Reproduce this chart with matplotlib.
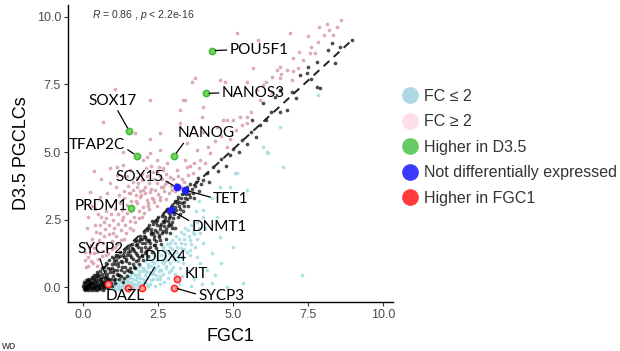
import matplotlib
matplotlib.use('Agg')
import matplotlib.pyplot as plt
from matplotlib.lines import Line2D

plt.rcParams['font.family'] = ['Liberation Sans', 'DejaVu Sans']
plt.rcParams['mathtext.fontset'] = 'custom'
plt.rcParams['mathtext.it'] = 'Liberation Sans:italic'
plt.rcParams['mathtext.rm'] = 'Liberation Sans'

# genes with FC >= 2 (higher in D3.5)
pink_pts = [
    (5.14, 9.42), (6.9, 9.4), (7.88, 9.62), (8.12, 9.74), (8.46, 9.62), (8.34, 9.33), (8.03, 9.33),
    (7.84, 9.09), (5.84, 9.15), (7.57, 8.65), (7.73, 8.65), (7.01, 8.47), (7.34, 8.41), (6.57, 8.16),
    (6.46, 8.04), (6.79, 8.04), (7.18, 8.1), (5.68, 8.1), (3.73, 7.73), (3.62, 7.6), (4.57, 7.67),
    (4.73, 7.6), (5.46, 7.6), (6.01, 7.48), (6.29, 7.79), (6.57, 7.73), (6.96, 7.67), (3.34, 6.93),
    (4.01, 6.68), (5.9, 6.93), (3.96, 6.31), (4.68, 6.19), (5.01, 6.19), (5.23, 6.31), (5.46, 6.31),
    (5.29, 6.0), (1.07, 7.32), (2.23, 6.93), (0.68, 6.12), (3.4, 6.93), (3.23, 6.56), (1.73, 5.69),
    (2.23, 5.5), (2.57, 5.69), (3.23, 6.06), (3.68, 5.94), (4.01, 5.75), (4.46, 5.94), (4.79, 6.19),
    (5.46, 6.06), (1.34, 5.01), (2.12, 4.83), (2.57, 5.07), (2.79, 4.58), (3.46, 5.32), (3.79, 5.07),
    (3.9, 4.7), (4.23, 4.95), (4.79, 5.2), (1.12, 4.46), (1.57, 4.33), (3.12, 4.33), (3.46, 4.46),
    (3.68, 4.21),
    (0.1, 0.75), (0.15, 1.1), (0.12, 2.19), (0.2, 1.5), (0.25, 0.95), (0.3, 1.8), (0.35, 1.25),
    (0.4, 2.3), (0.45, 1.6), (0.5, 1.05), (0.55, 2.0), (0.6, 2.6), (0.65, 1.35), (0.7, 1.9),
    (0.75, 2.8), (0.8, 1.45), (0.85, 2.3), (0.9, 3.0), (0.95, 1.7), (1.0, 2.5), (1.05, 3.2),
    (1.1, 1.9), (1.15, 2.7), (1.2, 3.4), (1.25, 2.1), (1.3, 2.85), (1.35, 3.55), (1.4, 2.3),
    (1.45, 3.05), (1.5, 3.75), (1.55, 2.45), (1.6, 3.2), (1.65, 3.9), (1.7, 2.6), (1.75, 3.4),
    (1.8, 4.05), (1.85, 2.8), (1.9, 3.55), (1.95, 4.2), (2.0, 2.95), (2.05, 3.7), (2.1, 4.4),
    (2.15, 3.1), (2.2, 3.85), (2.25, 4.5), (2.3, 3.3), (2.35, 4.0), (2.4, 3.6), (2.45, 4.25),
    (2.5, 3.45), (2.55, 4.1), (2.6, 3.7), (2.65, 4.4), (2.7, 3.55), (2.8, 3.9), (2.9, 4.09),
    (2.68, 4.33), (2.46, 4.7), (2.01, 4.7), (2.23, 4.95), (1.34, 4.52), (0.9, 4.4), (1.12, 4.15),
    (0.9, 3.84), (0.23, 3.53), (0.57, 3.34), (1.79, 3.71), (2.01, 3.59), (2.23, 3.53), (1.9, 3.34),
    (2.12, 3.22), (2.34, 3.28), (1.79, 3.1), (2.57, 3.22), (2.68, 3.71), (1.57, 3.47), (0.4, 2.9),
    (0.7, 2.4), (1.0, 2.0), (1.3, 2.5), (1.6, 2.8), (0.3, 3.0), (0.5, 2.7), (0.8, 3.5), (1.1, 3.7),
    (1.45, 4.1), (0.6, 4.0), (0.35, 4.3), (1.95, 2.6), (2.2, 2.9), (2.45, 3.0), (0.15, 2.6),
    (0.05, 1.3), (0.45, 0.8), (0.75, 1.2), (1.05, 1.5), (1.35, 1.8), (1.65, 2.1), (2.75, 3.25),
    (2.95, 3.6), (3.1, 3.8), (3.3, 4.0), (3.5, 4.15), (3.0, 4.0),
    (0.08, 1.0), (0.18, 0.8), (0.22, 1.25), (0.28, 1.55), (0.33, 0.9), (0.38, 1.45), (0.42, 2.05),
    (0.48, 1.3), (0.52, 1.75), (0.58, 2.3), (0.62, 1.15), (0.68, 1.65), (0.72, 2.15), (0.78, 2.55),
    (0.83, 1.25), (0.87, 1.95), (0.92, 2.7), (0.97, 1.4), (1.02, 2.2), (1.08, 2.9), (1.13, 1.6),
    (1.18, 2.35), (1.22, 3.1), (1.28, 1.75), (1.32, 2.6), (1.38, 3.3), (1.42, 2.0), (1.48, 2.75),
    (1.52, 3.5), (1.58, 2.2), (1.62, 2.95), (1.68, 3.6), (1.72, 2.4), (1.78, 3.2), (1.82, 3.85),
    (1.88, 2.55), (1.92, 3.4), (1.98, 3.95), (2.02, 2.75), (2.08, 3.5), (2.12, 4.1), (2.18, 3.0),
    (2.28, 3.65), (2.32, 4.25), (2.38, 3.15), (2.48, 3.85), (2.52, 4.45), (2.58, 3.35), (2.62, 4.0),
    (2.72, 3.8), (2.78, 4.2), (2.85, 3.5), (2.92, 3.75), (3.05, 3.55), (3.15, 4.1), (3.25, 3.7),
    (3.38, 3.9), (3.55, 4.5), (3.4, 4.7), (3.7, 4.6), (3.85, 4.4), (4.05, 4.6), (4.15, 5.2),
    (4.4, 5.4), (4.6, 5.6), (4.9, 5.5), (5.1, 5.8), (5.6, 6.5), (5.8, 7.3), (6.1, 7.6), (6.3, 7.2),
    (6.6, 7.9), (7.0, 8.0), (7.2, 8.7), (7.6, 8.9), (8.2, 9.5), (8.6, 9.9), (7.5, 9.3),
]

# genes with FC <= 2 (higher in FGC1)
cyan_pts = [
    (0.9, -0.05), (1.0, 0.05), (1.05, -0.1), (1.1, 0.15), (1.15, 0.0), (1.2, -0.08), (1.25, 0.2),
    (1.3, 0.05), (1.35, -0.05), (1.4, 0.3), (1.45, 0.12), (1.5, -0.1), (1.55, 0.4), (1.6, 0.2),
    (1.65, 0.02), (1.7, 0.5), (1.75, 0.28), (1.8, 0.08), (1.85, 0.6), (1.9, 0.35), (1.95, -0.05),
    (2.0, 0.7), (2.05, 0.45), (2.1, 0.15), (2.15, 0.85), (2.2, 0.55), (2.25, 0.25), (2.3, 0.95),
    (2.35, 0.65), (2.4, 0.05), (2.45, 1.1), (2.5, 0.8), (2.55, 0.4), (2.6, 1.2), (2.65, 0.9),
    (2.7, 0.2), (2.75, 1.35), (2.8, 1.0), (2.85, 0.55), (2.9, 1.5), (2.95, 1.15), (3.0, 0.75),
    (3.05, 1.65), (3.1, 1.3), (3.15, 0.95), (3.2, 1.8), (3.25, 1.45), (3.3, 1.1), (3.35, 1.95),
    (3.4, 1.6), (3.5, 2.1), (3.55, 1.75), (3.6, 2.3), (3.7, 1.95), (1.3, 0.3), (1.6, 0.55),
    (1.9, 0.8), (2.2, 1.05), (2.5, 1.3), (2.8, 1.6), (3.1, 1.9), (3.4, 2.2), (1.45, 0.45),
    (1.75, 0.7), (2.05, 0.95), (2.35, 1.2), (2.65, 1.5), (2.95, 1.75), (3.25, 2.05), (1.15, 0.25),
    (1.7, 0.12), (2.0, 0.3), (2.3, 0.5), (2.6, 0.65), (2.9, 0.9), (3.2, 1.2), (2.45, 0.3),
    (2.75, 0.7), (3.05, 1.0), (2.15, 0.05), (2.55, 0.1), (1.85, 0.2), (3.35, 1.4), (3.6, 1.6),
    (3.8, 2.4), (3.9, 2.0), (4.0, 2.6),
    (2.9, 1.62), (2.68, 1.37), (2.46, 1.0), (2.57, 0.63), (2.34, 0.51), (3.57, 1.37), (3.34, 1.12),
    (4.01, 1.62), (3.9, 0.88), (4.12, 0.63), (4.29, 1.25), (4.57, 1.86), (5.01, 1.49), (5.34, 0.14),
    (4.29, 0.14), (4.79, 0.01), (7.29, 0.44), (4.01, 2.85), (4.46, 2.6), (4.57, 3.71), (4.9, 3.71),
    (5.46, 3.59), (5.12, 4.23), (6.66, 4.46), (6.18, 4.97), (6.01, 5.2), (6.57, 5.94), (7.84, 7.11),
    (5.07, 4.23), (6.12, 5.01), (3.7, 0.3), (3.5, 0.6), (3.8, 1.1), (4.4, 0.45), (4.05, 2.2),
    (3.75, 2.8), (3.85, 3.2), (4.3, 3.3), (3.3, 0.4), (3.2, 0.1), (3.6, 0.05), (4.6, 0.9), (3.95, 0.1),
    (0.95, 0.1), (1.02, -0.02), (1.08, 0.08), (1.12, -0.06), (1.18, 0.12), (1.22, 0.02), (1.28, -0.1),
    (1.32, 0.18), (1.38, 0.08), (1.42, -0.02), (1.48, 0.25), (1.52, 0.05), (1.58, 0.35), (1.62, 0.1),
    (1.68, 0.3), (1.72, -0.05), (1.78, 0.45), (1.82, 0.15), (1.88, 0.5), (1.92, 0.1), (1.98, 0.6),
    (2.02, 0.2), (2.08, 0.65), (2.12, 0.35), (2.18, 0.75), (2.22, 0.1), (2.28, 0.8), (2.32, 0.3),
    (2.38, 0.9), (2.42, 0.45), (2.48, 1.0), (2.52, 0.6), (2.58, 0.3), (2.62, 0.95), (2.68, 0.5),
    (2.72, 1.15), (2.78, 0.8), (2.82, 0.35), (2.88, 1.25), (2.92, 0.65), (2.98, 1.4), (3.02, 1.05),
    (3.08, 0.5), (3.12, 1.5), (3.18, 1.1), (3.22, 0.7), (3.28, 1.65), (3.32, 0.9), (3.38, 1.8),
    (3.45, 1.3), (3.52, 1.9), (3.58, 1.2), (3.65, 2.05), (3.72, 1.5), (3.8, 1.8), (3.88, 2.2),
    (1.5, 0.18), (1.8, 0.38), (2.1, 0.55), (2.4, 0.72), (2.7, 0.95), (3.0, 1.2),
]

# genes close to the diagonal
black_pts = [
    (0.02, 0.01), (0.05, -0.04), (0.07, 0.06), (0.1, 0.0), (0.12, 0.12), (0.14, -0.06), (0.17, 0.04),
    (0.19, 0.15), (0.22, -0.02), (0.24, 0.08), (0.27, 0.2), (0.29, -0.05), (0.31, 0.05), (0.34, 0.14),
    (0.36, -0.01), (0.39, 0.09), (0.41, 0.22), (0.44, -0.06), (0.46, 0.03), (0.49, 0.13), (0.51, 0.27),
    (0.54, -0.03), (0.56, 0.07), (0.59, 0.18), (0.61, 0.32), (0.64, 0.0), (0.66, 0.1), (0.69, 0.24),
    (0.71, -0.05), (0.74, 0.05), (0.77, 0.16), (0.8, 0.38), (0.83, -0.02), (0.86, 0.09), (0.04, 0.18),
    (0.09, 0.25), (0.16, 0.3), (0.21, 0.28), (0.33, 0.35), (0.43, 0.4), (0.53, 0.45), (0.63, 0.5),
    (0.72, 0.58), (0.03, -0.08), (0.08, -0.1), (0.13, 0.02), (0.18, -0.09), (0.26, -0.1), (0.37, -0.09),
    (0.47, -0.1), (0.58, -0.08), (0.68, -0.1), (0.06, 0.1), (0.11, 0.07), (0.2, 0.11), (0.3, 0.16),
    (0.4, 0.02), (0.5, 0.06), (0.6, 0.12), (0.7, 0.14), (0.78, 0.02),
    (0.82, 0.7), (0.88, 0.25), (0.9, 0.55), (0.95, 0.05), (0.97, 0.85), (1.0, 0.4), (1.03, 0.65),
    (1.06, 0.15), (1.1, 1.0), (1.12, 0.5), (1.16, 0.78), (1.2, 0.3), (1.22, 1.15), (1.26, 0.62),
    (1.3, 0.92), (1.33, 0.2), (1.36, 1.3), (1.4, 0.75), (1.43, 1.05), (1.47, 0.4), (1.5, 1.45),
    (1.53, 0.9), (1.57, 1.2), (1.6, 0.55), (1.63, 1.6), (1.67, 1.05), (1.7, 1.35), (1.73, 0.7),
    (1.77, 1.75), (1.8, 1.2), (1.84, 1.5), (1.87, 0.85), (1.9, 1.9), (1.94, 1.35), (1.97, 1.65),
    (2.0, 1.0), (2.04, 2.05), (2.08, 1.5), (2.11, 1.8), (2.15, 1.15), (2.18, 2.2), (2.22, 1.62),
    (2.26, 1.95), (2.3, 1.3), (2.33, 2.35), (2.37, 1.78), (2.4, 2.1), (2.44, 1.45), (2.48, 2.5),
    (2.52, 1.92), (2.55, 2.25), (2.6, 1.6), (2.63, 2.65), (2.67, 2.08), (2.7, 2.4), (2.75, 1.8),
    (2.78, 2.8), (2.82, 2.25), (2.86, 2.55), (2.9, 2.0), (2.94, 2.95), (2.98, 2.4), (3.03, 2.7),
    (3.07, 2.2), (3.12, 3.1), (3.17, 2.6), (3.22, 2.9), (3.27, 3.3), (3.33, 2.8), (3.38, 3.15),
    (3.43, 3.45), (3.5, 3.0), (3.55, 3.35), (3.62, 3.65), (3.7, 3.3), (3.78, 3.9), (3.85, 3.55),
    (1.05, 0.85), (1.15, 0.45), (1.25, 0.95), (1.35, 0.55), (1.45, 1.2), (1.55, 0.7), (1.65, 1.4),
    (1.75, 0.95), (1.85, 1.7), (1.95, 1.15), (2.05, 1.85), (2.15, 1.4), (2.25, 2.15), (2.35, 1.55),
    (2.45, 2.3), (2.55, 1.75), (2.65, 2.45), (2.75, 2.05), (2.85, 2.75), (2.95, 2.2), (0.92, 0.3),
    (0.98, 0.7), (1.08, 0.3), (1.18, 0.9), (1.28, 0.4), (1.38, 1.1), (1.48, 0.65), (1.58, 1.35),
    (1.68, 0.85), (1.78, 1.55), (1.88, 1.1), (1.98, 1.8), (2.08, 1.25), (2.2, 1.75), (2.32, 2.0),
    (2.42, 1.7), (2.58, 2.15), (2.72, 2.6), (2.88, 2.35), (3.05, 2.95), (3.2, 3.15), (3.35, 3.0),
    (3.48, 3.25),
    (0.01, 0.05), (0.04, 0.12), (0.06, -0.02), (0.09, 0.16), (0.11, -0.05), (0.13, 0.2), (0.15, 0.1),
    (0.18, 0.22), (0.21, 0.02), (0.23, 0.17), (0.25, 0.3), (0.28, 0.1), (0.3, 0.38), (0.32, -0.02),
    (0.35, 0.25), (0.38, 0.45), (0.4, 0.12), (0.42, 0.32), (0.45, 0.55), (0.47, 0.2), (0.5, 0.42),
    (0.52, 0.0), (0.55, 0.3), (0.57, 0.6), (0.6, 0.22), (0.62, 0.7), (0.65, 0.38), (0.67, 0.05),
    (0.7, 0.75), (0.73, 0.35), (0.75, 0.2), (0.78, 0.9), (0.8, 0.5), (0.84, 0.3), (0.87, 1.0),
    (0.9, 0.68), (0.93, 0.15), (0.96, 1.1), (0.99, 0.55), (1.02, 0.95), (1.04, 0.25), (1.09, 1.2),
    (1.13, 0.65), (1.17, 1.1), (1.21, 0.45), (1.24, 1.3), (1.29, 0.75), (1.32, 1.2), (1.37, 0.35),
    (1.41, 1.4), (1.44, 0.95), (1.49, 1.3), (1.52, 0.6), (1.56, 1.55), (1.61, 1.1), (1.64, 1.45),
    (1.69, 0.75), (1.72, 1.7), (1.76, 1.25), (1.81, 1.6), (1.83, 1.0), (1.89, 1.8), (1.93, 1.45),
    (1.96, 1.2), (2.02, 1.9), (2.06, 1.65), (2.1, 1.35), (2.13, 2.1), (2.17, 1.7), (2.21, 2.3),
    (2.24, 1.5), (2.28, 2.05), (2.31, 2.45), (2.36, 1.9), (2.39, 1.55), (2.43, 2.4), (2.47, 2.05),
    (2.51, 2.6), (2.54, 1.85), (2.59, 2.35), (2.62, 2.0), (2.66, 2.7), (2.69, 2.25), (2.74, 2.5),
    (2.77, 2.15), (2.81, 2.9), (2.84, 2.45), (2.89, 2.65), (2.93, 2.3), (2.97, 3.05), (3.01, 2.55),
    (3.06, 3.2), (3.1, 2.85), (3.15, 3.35), (3.19, 3.0), (3.24, 2.7), (3.29, 3.45), (3.31, 3.1),
    (3.36, 3.6), (3.41, 3.3), (3.46, 3.7), (3.53, 3.45), (3.58, 3.8), (3.66, 3.5), (3.74, 3.75),
    (3.82, 4.05), (3.92, 3.8),
    (4.0, 3.96), (4.12, 4.21), (4.34, 4.46), (4.2, 3.9), (4.5, 4.3), (4.6, 4.75), (4.75, 4.5),
    (4.9, 4.89), (5.0, 5.1), (5.2, 5.0), (5.3, 5.45), (5.45, 5.3), (5.6, 5.75), (5.62, 6.19),
    (5.75, 5.55), (5.9, 6.0), (6.01, 6.8), (6.1, 6.2), (6.25, 6.5), (6.4, 7.05), (6.57, 6.5),
    (6.79, 6.56), (6.57, 7.3), (6.96, 7.23), (7.1, 7.0), (7.23, 7.85), (7.46, 7.91), (7.51, 8.16),
    (7.79, 8.35), (7.79, 7.42), (7.9, 7.36), (8.18, 8.78), (8.29, 9.02), (8.57, 8.9), (8.96, 9.15),
    (8.4, 8.3), (7.6, 7.7),
]

# labelled genes: name, FGC1, D3.5, group
genes = ['POU5F1', 'NANOS3', 'SOX17', 'TFAP2C', 'NANOG', 'PRDM1',
         'SOX15', 'TET1', 'DNMT1',
         'SYCP2', 'DDX4', 'DAZL', 'KIT', 'SYCP3']
gene_fgc1 = [4.29, 4.09, 1.54, 1.79, 3.04, 1.6, 3.12, 3.4, 2.92, 0.84, 1.97, 1.5, 3.12, 3.04]
gene_d35 = [8.75, 7.17, 5.78, 4.86, 4.86, 2.94, 3.69, 3.59, 2.85, 0.12, -0.02, -0.02, 0.3, -0.02]
gene_group = ['up', 'up', 'up', 'up', 'up', 'up', 'ns', 'ns', 'ns',
              'down', 'down', 'down', 'down', 'down']

fit_x = [0.0, 8.95]
fit_slope = 1.02

# label placement: (x, y, ha, relpos or None)
label_pos = {
    'POU5F1': (4.88, 8.78, 'left', (0.0, 0.5)),
    'NANOS3': (4.62, 7.19, 'left', (0.0, 0.5)),
    'SOX17': (1.0, 6.89, 'center', (0.55, 0.1)),
    'TFAP2C': (0.46, 5.26, 'center', (1.0, 0.3)),
    'NANOG': (4.12, 5.69, 'center', (0.15, 0.1)),
    'PRDM1': (0.62, 3.0, 'center', None),
    'SOX15': (1.87, 4.06, 'center', (1.0, 0.35)),
    'TET1': (4.93, 3.25, 'center', (0.0, 0.6)),
    'DNMT1': (4.54, 2.23, 'center', (0.0, 0.85)),
    'SYCP2': (0.6, 1.41, 'center', (0.45, 0.1)),
    'DDX4': (2.75, 1.1, 'center', (0.3, 0.1)),
    'DAZL': (1.4, -0.33, 'center', None),
    'KIT': (3.76, 0.47, 'center', None),
    'SYCP3': (4.61, -0.33, 'center', (0.0, 0.6)),
}

group_style = {
    'up': dict(facecolor='#7ad65a', edgecolor='#3cb83c'),
    'ns': dict(facecolor='#1f1fff', edgecolor='#1f1fff'),
    'down': dict(facecolor='#ff9a9a', edgecolor='#ff2020'),
}

fig = plt.figure(figsize=(6.2, 3.51), dpi=100)
ax = fig.add_axes([0.1097, 0.1396, 0.5242, 0.846])

px, py = zip(*pink_pts)
cx, cy = zip(*cyan_pts)
bx, by = zip(*black_pts)
ax.scatter(px, py, s=7, color='#d9a2ad', linewidths=0, alpha=0.9, zorder=2)
ax.scatter(cx, cy, s=7, color='#a9dde3', linewidths=0, alpha=0.9, zorder=2)
ax.scatter(bx, by, s=7, color='black', linewidths=0, alpha=0.7, zorder=3)

ax.plot(fit_x, [fit_slope * v for v in fit_x], color='#222222', lw=1.4,
        ls=(0, (4, 3)), zorder=4)

for g, gx, gy, grp in zip(genes, gene_fgc1, gene_d35, gene_group):
    st = group_style[grp]
    ax.scatter([gx], [gy], s=20, facecolor=st['facecolor'], edgecolor=st['edgecolor'],
               linewidths=1.1, zorder=6)
    tx, ty, ha, rp = label_pos[g]
    if rp is None:
        ax.text(tx, ty, g, ha=ha, va='center', fontsize=11, family='Lato', zorder=7)
    else:
        ax.annotate(g, xy=(gx, gy), xytext=(tx, ty), ha=ha, va='center', fontsize=11,
                    family='Lato', zorder=7,
                    arrowprops=dict(arrowstyle='-', color='black', lw=0.9, relpos=rp,
                                    shrinkA=0, shrinkB=2.5))

ax.text(0.3, 10.07, r'$\it{R}$ = 0.86 , $\it{p}$ < 2.2e-16', fontsize=7.5,
        color='#333333', ha='left', va='center')

ax.set_xlim(-0.5, 10.33)
ax.set_ylim(-0.55, 10.44)
ax.set_xticks([0, 2.5, 5, 7.5, 10])
ax.set_yticks([0, 2.5, 5, 7.5, 10])
ax.set_xticklabels(['0.0', '2.5', '5.0', '7.5', '10.0'])
ax.set_yticklabels(['0.0', '2.5', '5.0', '7.5', '10.0'])
ax.tick_params(labelsize=9, labelcolor='#4d4d4d', color='#333333', length=3, width=0.8, pad=2)
for s in ['top', 'right']:
    ax.spines[s].set_visible(False)
for s in ['left', 'bottom']:
    ax.spines[s].set_linewidth(1.0)
ax.set_xlabel('FGC1', fontsize=13, labelpad=5)
ax.set_ylabel('D3.5 PGCLCs', fontsize=13, labelpad=5)

legend_colors = ['#add8e6', '#ffdde9', '#66cc66', '#3b3bff', '#ff3b3b']
legend_labels = ['FC \u2264 2', 'FC \u2265 2', 'Higher in D3.5', 'Not differentially expressed',
                 'Higher in FGC1']
handles = [Line2D([], [], marker='o', ls='', markersize=11, color=c) for c in legend_colors]
fig.legend(handles, legend_labels, loc='upper left', bbox_to_anchor=(0.635, 0.765),
           frameon=False, fontsize=11.5, handletextpad=0.3, labelspacing=0.66,
           handlelength=1.2, borderaxespad=0, labelcolor='#333333')

fig.text(0.002, 0.0, 'wo', fontsize=8, color='#333333', ha='left', va='bottom')

fig.savefig('out.png', dpi=100)
